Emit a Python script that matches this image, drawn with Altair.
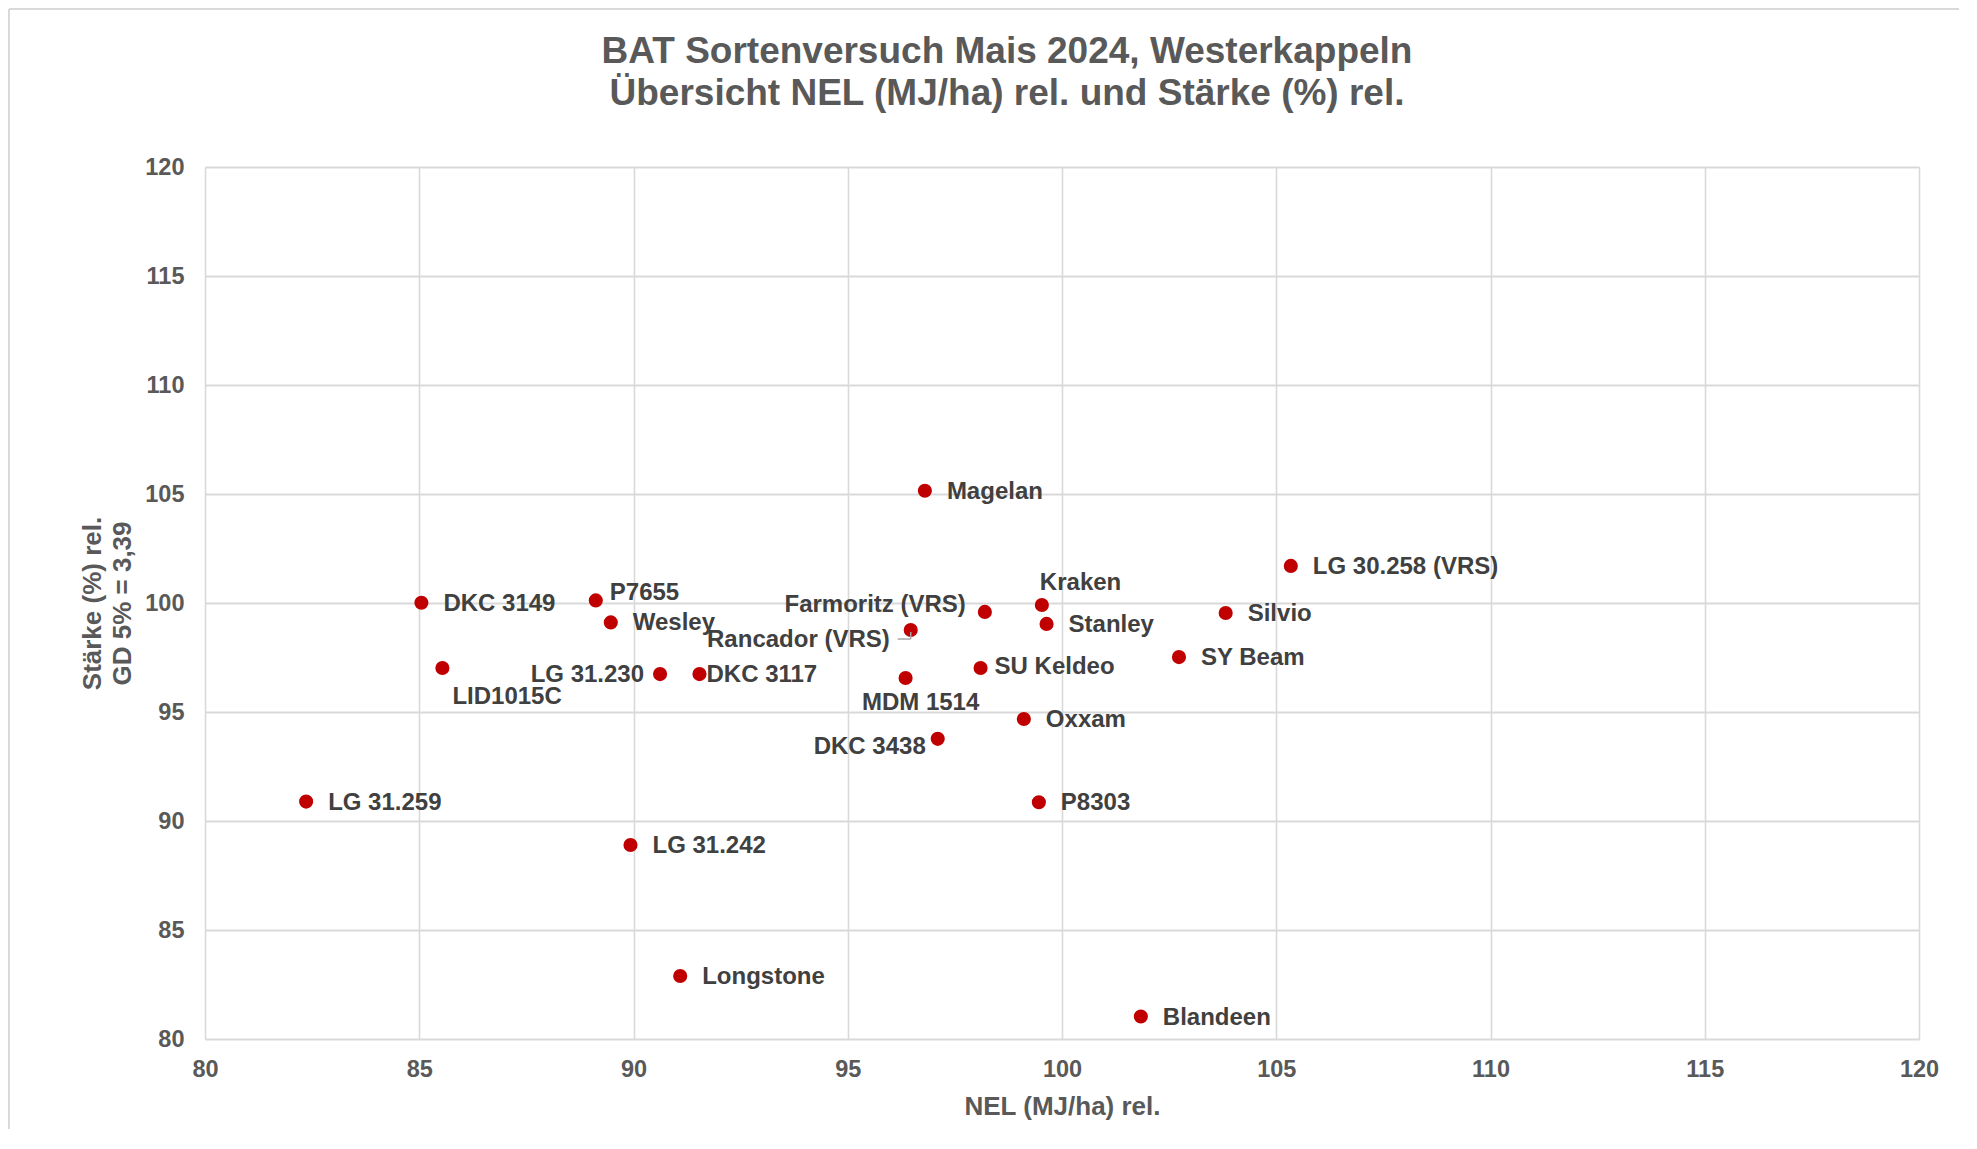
import altair as alt
import pandas as pd

# ---- data ----
names = ["Magelan", "LG 30.258 (VRS)", "Kraken", "Farmoritz (VRS)", "Stanley", "Silvio",
         "Rancador (VRS)", "SY Beam", "SU Keldeo", "MDM 1514", "DKC 3117", "LG 31.230",
         "LID1015C", "DKC 3149", "P7655", "Wesley", "Oxxam", "DKC 3438", "P8303",
         "LG 31.259", "LG 31.242", "Longstone", "Blandeen"]
nel = [96.80, 105.34, 99.53, 98.20, 99.64, 103.82,
       96.47, 102.73, 98.10, 96.35, 91.54, 90.62,
       85.54, 85.05, 89.12, 89.47, 99.11, 97.10, 99.46,
       82.36, 89.93, 91.09, 101.84]
staerke = [105.15, 101.70, 99.91, 99.59, 99.04, 99.54,
           98.76, 97.52, 97.02, 96.56, 96.74, 96.74,
           97.02, 100.01, 100.12, 99.11, 94.68, 93.77, 90.86,
           90.89, 88.90, 82.89, 81.03]
x_ticks = [80, 85, 90, 95, 100, 105, 110, 115, 120]
y_ticks = [80, 85, 90, 95, 100, 105, 110, 115, 120]

title_lines = ["BAT Sortenversuch Mais 2024, Westerkappeln",
               "Übersicht NEL (MJ/ha) rel. und Stärke (%) rel."]
x_title = "NEL (MJ/ha) rel."
y_title = ["Stärke (%) rel.", "GD 5% = 3,39"]

df = pd.DataFrame({"name": names, "nel": nel, "staerke": staerke})

# ---- label placement (style, kept apart from data) ----
default_place = ("left", 22, 1)
special_place = {
    "Kraken": ("left", -2, -22),
    "Farmoritz (VRS)": ("right", -19, -7),
    "Rancador (VRS)": ("right", -21, 10),
    "MDM 1514": ("center", 15, 25),
    "DKC 3438": ("right", -12, 8),
    "LG 31.230": ("right", -16, 1),
    "LID1015C": ("left", 10, 29),
    "P7655": ("left", 14, -7),
    "DKC 3117": ("left", 7, 1),
    "SU Keldeo": ("left", 14, -1),
}

FONT = "Liberation Sans"
GRID = "#d9d9d9"

x_enc = alt.X("nel:Q",
              scale=alt.Scale(domain=[80, 120], nice=False, zero=False),
              axis=alt.Axis(values=x_ticks, title=x_title, grid=True, gridColor=GRID,
                            gridWidth=1.6, domain=False, ticks=False, tickSize=0,
                            labelFlush=False, labelOverlap=False,
                            labelPadding=18, labelFontSize=23.5, labelFont=FONT,
                            labelFontWeight="bold", labelColor="#595959",
                            titleFont=FONT, titleFontSize=26, titleFontWeight="bold",
                            titleColor="#595959", titleY=67, titleBaseline="middle"))
y_enc = alt.Y("staerke:Q",
              scale=alt.Scale(domain=[80, 120], nice=False, zero=False),
              axis=alt.Axis(values=y_ticks, title=y_title, grid=True, gridColor=GRID,
                            gridWidth=1.9, domain=False, ticks=False, tickSize=0,
                            labelFlush=False, labelOverlap=False,
                            labelPadding=21, labelFontSize=23.5, labelFont=FONT,
                            labelFontWeight="bold", labelColor="#595959",
                            titleFont=FONT, titleFontSize=26, titleFontWeight="bold",
                            titleColor="#595959", titleLineHeight=30,
                            titleX=-100, titleBaseline="bottom"))

base = alt.Chart(df)

points = base.mark_point(filled=True, size=200, color="#C00000", opacity=1).encode(
    x=x_enc, y=y_enc)

layers = [points]

# leader line for Rancador (VRS)
leader_df = df[df["name"] == "Rancador (VRS)"]
leader_h = alt.Chart(leader_df).mark_rule(color="#a6a6a6", strokeWidth=1.5,
                                          xOffset=-13, x2Offset=0, yOffset=9).encode(
    x="nel:Q", x2="nel", y="staerke:Q")
leader_v = alt.Chart(leader_df).mark_rule(color="#a6a6a6", strokeWidth=1.5,
                                          yOffset=9, y2Offset=2).encode(
    x="nel:Q", y="staerke:Q", y2="staerke")
layers += [leader_h, leader_v]

groups = {}
for n in names:
    groups.setdefault(special_place.get(n, default_place), []).append(n)

for (align, dx, dy), members in groups.items():
    layers.append(
        base.transform_filter(alt.FieldOneOfPredicate(field="name", oneOf=members))
        .mark_text(align=align, baseline="middle", dx=dx, dy=dy, font=FONT,
                   fontSize=24, fontWeight="bold", color="#404040")
        .encode(x="nel:Q", y="staerke:Q", text="name:N")
    )

# outer chart frame lines (top and left)
frame_top = alt.Chart(df).mark_rule(color=GRID, strokeWidth=2, clip=False).encode(
    x=alt.value(-196), x2=alt.value(1760), y=alt.value(-158))
frame_left = alt.Chart(df).mark_rule(color=GRID, strokeWidth=2, clip=False).encode(
    x=alt.value(-196), y=alt.value(-158), y2=alt.value(990))
layers += [frame_top, frame_left]

chart = alt.layer(*layers).properties(
    width=1714,
    height=872,
    title=alt.TitleParams(text=title_lines, anchor="middle", dx=-55, offset=-105,
                          font=FONT, fontSize=37, fontWeight="bold", color="#595959",
                          lineHeight=42),
    autosize=alt.AutoSizeParams(type="none"),
    padding={"left": 197, "top": 159, "right": 40, "bottom": 90},
).configure_view(stroke="transparent").configure(background="white")

chart.save("out.html", embed_options={"renderer": "svg", "actions": False})
